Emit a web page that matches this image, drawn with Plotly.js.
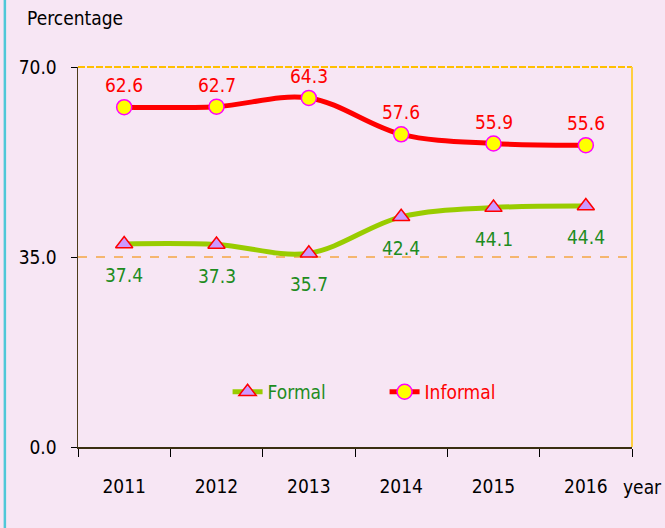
<!DOCTYPE html>
<html>
<head>
<meta charset="utf-8">
<script src="https://cdn.plot.ly/plotly-3.0.1.min.js"></script>
<style>html,body{margin:0;padding:0;background:#f7e6f4;}#chart{width:665px;height:528px;}</style>
</head>
<body>
<div id="chart"></div>
<script>
const years = ['2011','2012','2013','2014','2015','2016'];
const formal = [37.4, 37.3, 35.7, 42.4, 44.1, 44.4];
const informal = [62.6, 62.7, 64.3, 57.6, 55.9, 55.6];
const yTicks = [0, 35, 70];
const yTickText = ['0.0', '35.0', '70.0'];

const FONT = '"DejaVu Sans Condensed", sans-serif';
const FS = 19;

const traces = [
  {
    x: years, y: formal, name: '<span style="color:#1e8c1e">Formal</span>',
    type: 'scatter', mode: 'lines+markers',
    line: {color: '#99cc00', width: 5, shape: 'spline', smoothing: 1},
    marker: {symbol: 'triangle-up', size: 15, color: '#cc99ff', line: {color: '#ff0000', width: 1.5}},
    cliponaxis: false
  },
  {
    x: years, y: informal, name: '<span style="color:#ff0000">Informal</span>',
    type: 'scatter', mode: 'lines+markers',
    line: {color: '#ff0000', width: 5, shape: 'spline', smoothing: 1},
    marker: {symbol: 'circle', size: 15, color: '#ffff00', line: {color: '#ff00ff', width: 1.5}},
    cliponaxis: false
  }
];

const annotations = [];
years.forEach((yr, i) => {
  annotations.push({x: i, y: informal[i], xref: 'x', yref: 'y', text: informal[i].toFixed(1),
    showarrow: false, yshift: 22, font: {family: FONT, size: FS, color: '#ff0000'}});
  annotations.push({x: i, y: formal[i], xref: 'x', yref: 'y', text: formal[i].toFixed(1),
    showarrow: false, yshift: -31, font: {family: FONT, size: FS, color: '#1e8c1e'}});
});
annotations.push({text: 'Percentage', xref: 'paper', yref: 'paper', x: -0.095, y: 1.128,
  xanchor: 'left', yanchor: 'middle', showarrow: false, font: {family: FONT, size: FS, color: '#000'}});
annotations.push({text: 'year', xref: 'paper', yref: 'paper', x: 1.058, y: -0.105,
  xanchor: 'right', yanchor: 'middle', showarrow: false, font: {family: FONT, size: FS, color: '#000'}});

const layout = {
  width: 665, height: 528,
  paper_bgcolor: '#f7e6f4', plot_bgcolor: '#f7e6f4',
  margin: {l: 78, r: 33, t: 67, b: 81},
  font: {family: FONT, size: FS, color: '#000'},
  showlegend: true,
  legend: {orientation: 'h', x: 0.27, y: 0.145, xanchor: 'left', yanchor: 'middle',
    bgcolor: 'rgba(0,0,0,0)', entrywidth: 112, font: {family: FONT, size: FS}},
  xaxis: {type: 'category', tickson: 'boundaries', ticks: 'outside', ticklen: 8, tickcolor: '#000',
    ticklabelstandoff: 22,
    showline: true, linecolor: '#3a2e10', linewidth: 1.5, showgrid: false, zeroline: false,
    tickfont: {family: FONT, size: FS, color: '#000'}, range: [-0.5, 5.5], fixedrange: true},
  yaxis: {range: [0, 70], tickvals: yTicks, ticktext: yTickText, ticks: 'outside', ticklen: 6,
    ticklabelstandoff: 10,
    tickcolor: '#000', showline: true, linecolor: '#4d3b1a', linewidth: 1.5, showgrid: false,
    zeroline: false, tickfont: {family: FONT, size: FS, color: '#000'}},
  shapes: [
    {type: 'line', xref: 'paper', yref: 'y', x0: 0, x1: 1, y0: 35, y1: 35,
      line: {color: '#f5a742', width: 1.5, dash: 'dash'}, layer: 'below'},
    {type: 'line', xref: 'paper', yref: 'paper', x0: 0, x1: 1, y0: 1, y1: 1,
      line: {color: '#ffc000', width: 2, dash: '7px,2px'}, layer: 'above'},
    {type: 'line', xref: 'paper', yref: 'paper', x0: 1, x1: 1, y0: 0, y1: 1,
      line: {color: '#ffcf40', width: 2}, layer: 'above'},
    {type: 'line', xref: 'paper', yref: 'paper', x0: -0.132, x1: -0.132, y0: -0.3, y1: 1.3,
      line: {color: '#4fc8d8', width: 2.5}}
  ],
  annotations: annotations
};

Plotly.newPlot('chart', traces, layout, {staticPlot: true, displayModeBar: false});
</script>
</body>
</html>
